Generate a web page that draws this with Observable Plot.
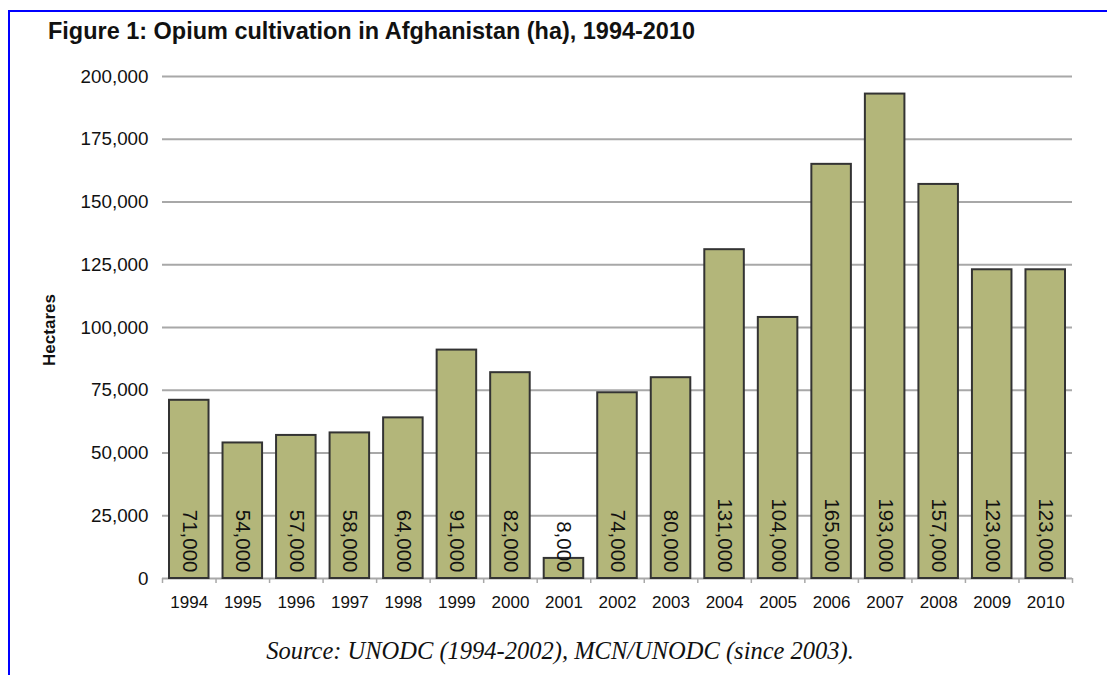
<!DOCTYPE html>
<html>
<head>
<meta charset="utf-8">
<script src="https://cdn.jsdelivr.net/npm/d3@7"></script>
<script src="https://cdn.jsdelivr.net/npm/@observablehq/plot@0.6"></script>
<style>
  html, body { margin: 0; padding: 0; background: #fff; }
  body { width: 1107px; height: 675px; overflow: hidden; position: relative; font-family: "Liberation Sans", Arial, sans-serif; }
  #frame { position: absolute; left: 8px; top: 10px; width: 1200px; height: 1000px; border-left: 2px solid #0000ff; border-top: 2px solid #0000ff; }
  #title { position: absolute; left: 48px; top: 18px; font-weight: bold; font-size: 23px; color: #111; white-space: nowrap; transform: scaleX(1.02); transform-origin: left center; }
  #chart { position: absolute; left: 0; top: 50px; }
  #ylabel { position: absolute; left: 50px; top: 330px; transform: translate(-50%, -50%) rotate(-90deg); font-weight: bold; font-size: 17px; color: #111; white-space: nowrap; }
  #caption { position: absolute; left: 0; width: 1120px; top: 637px; text-align: center; font-family: "Liberation Serif", "Times New Roman", serif; font-style: italic; font-size: 24.5px; color: #111; }
</style>
</head>
<body>
<div id="frame"></div>
<div id="title">Figure 1: Opium cultivation in Afghanistan (ha), 1994-2010</div>
<div id="chart"></div>
<div id="ylabel">Hectares</div>
<div id="caption">Source: UNODC (1994-2002), MCN/UNODC (since 2003).</div>
<script>
const years = [1994, 1995, 1996, 1997, 1998, 1999, 2000, 2001, 2002, 2003, 2004, 2005, 2006, 2007, 2008, 2009, 2010];
const hectares = [71000, 54000, 57000, 58000, 64000, 91000, 82000, 8000, 74000, 80000, 131000, 104000, 165000, 193000, 157000, 123000, 123000];
const yTicks = [0, 25000, 50000, 75000, 100000, 125000, 150000, 175000, 200000];

const data = years.map((year, i) => ({year, value: hectares[i]}));
const boundaries = [...years.map(y => y - 0.5), years[years.length - 1] + 0.5];
const fmt = d3.format(",");

const chart = Plot.plot({
  width: 1107,
  height: 580,
  marginLeft: 162,
  marginRight: 35,
  marginTop: 26,
  marginBottom: 52,
  style: {fontFamily: "'Liberation Sans', Arial, sans-serif", color: "#111", background: "transparent"},
  x: {type: "linear", domain: [years[0] - 0.5, years[years.length - 1] + 0.5]},
  y: {domain: [0, 200000]},
  marks: [
    Plot.ruleY(yTicks, {stroke: "#a8a8a8", strokeWidth: 1.8}),
    Plot.axisY({ticks: yTicks, tickSize: 0, tickPadding: 14, tickFormat: fmt, fontSize: 18.8, label: null}),
    Plot.axisX({ticks: boundaries, tickSize: 5, tickFormat: () => "", stroke: "#a8a8a8", strokeWidth: 1.5, label: null}),
    Plot.axisX({ticks: years, tickSize: 0, tickPadding: 17, tickFormat: d => String(d), fontSize: 17, label: null}),
    Plot.rectY(data, {x1: d => d.year - 0.5, x2: d => d.year + 0.5, y: "value", insetLeft: 7, insetRight: 7, fill: "#b3b67a", stroke: "#333", strokeWidth: 2}),
    Plot.text(data, {x: "year", y: 0, text: d => fmt(d.value), rotate: 90, textAnchor: "end", dy: -6, fontSize: 20.5, fill: "#111"})
  ]
});
document.getElementById("chart").appendChild(chart);
</script>
</body>
</html>
